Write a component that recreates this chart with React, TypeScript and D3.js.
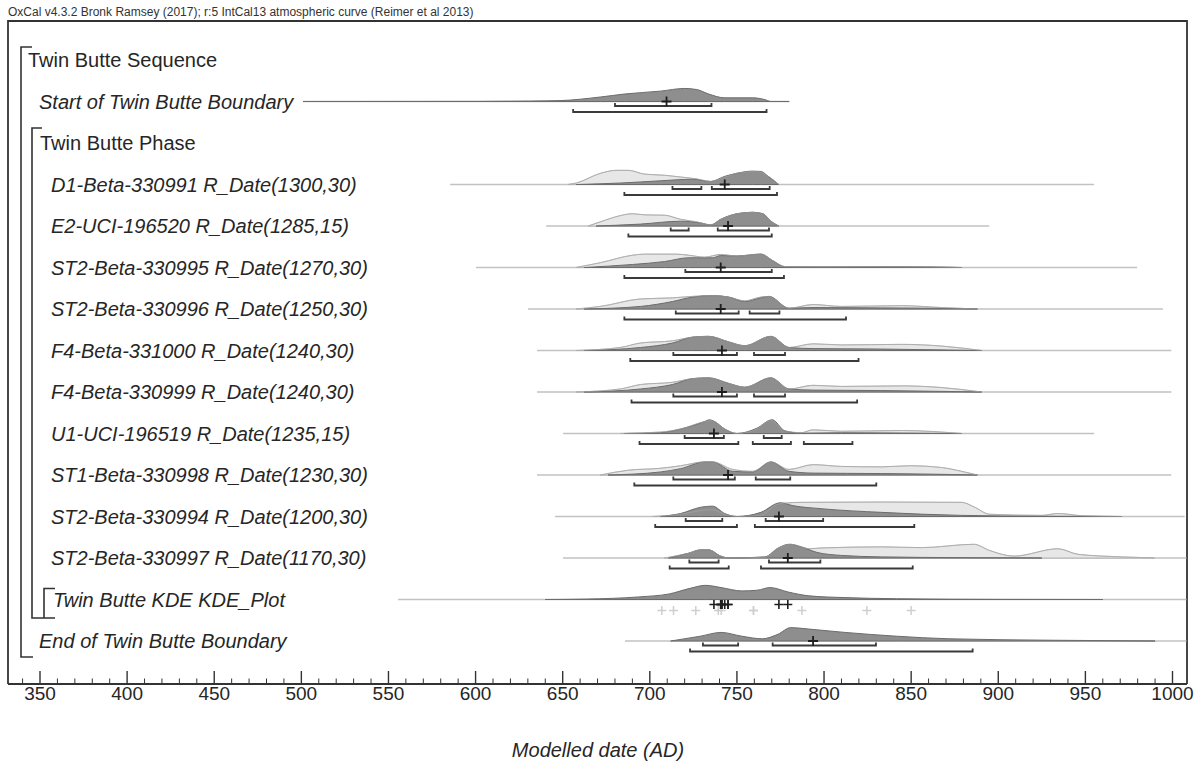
import React from "react";
import * as d3 from "d3";

type Pt = [number, number];

// ---- text ----
const headerText =
  "OxCal v4.3.2 Bronk Ramsey (2017); r:5 IntCal13 atmospheric curve (Reimer et al 2013)";
const axisTitle = "Modelled date (AD)";
const tickYears = d3.range(340, 1001, 10);

// ---- distributions: [year AD, relative density] ----
const startPost: Pt[] = [[501, 0], [602, 0.1], [631, 0.4], [648.5, 0.8], [671.5, 4], [685.4, 6.7], [706, 9.3], [720, 11.7], [727, 10.7], [733.8, 6.7], [743, 3.3], [759, 3.3], [766, 1.7], [769.5, 0], [780, 0]];

const d1Lik: Pt[] = [[653, 0], [657.7, 1.3], [671.6, 10], [680.8, 12.7], [687.7, 12.7], [697, 9.3], [708.4, 8.3], [717.7, 6.7], [727, 5], [735, 2.7], [743, 6.7], [752, 10.7], [761.4, 11.7], [767, 8.3], [774, 0]];
const d1Post: Pt[] = [[657.7, 0], [683, 1.3], [706, 3.3], [724.6, 4.7], [735, 2.7], [743, 7.3], [750, 10], [759, 12], [763.7, 11.7], [768.4, 6.7], [774, 0]];

const e2Lik: Pt[] = [[664.6, 0], [671.6, 3.7], [683, 9.3], [690, 11], [697, 10], [708.4, 9.7], [717.7, 6], [727, 3.7], [735, 1], [740.7, 6], [750, 11], [759, 12.3], [765, 11], [769.5, 4.3], [774, 0]];
const e2Post: Pt[] = [[669.2, 0], [694.6, 1.7], [717.7, 4.3], [729.2, 2.7], [735, 1], [740.7, 6], [750, 11], [759, 12.3], [765, 11], [769.5, 4.3], [774, 0]];

const st995Lik: Pt[] = [[657.7, 0], [671.6, 4.3], [690, 11], [697, 12], [715.3, 12], [722.3, 11], [731.5, 9.3], [740.7, 11.7], [750, 10.3], [763.7, 12], [770.7, 6], [777.6, 0.8], [786.8, 0.7], [830, 0.8], [860, 0.6], [879, 0]];
const st995Post: Pt[] = [[662.3, 0], [690, 2.7], [708.4, 5.3], [722.3, 8.7], [736, 8.7], [740.7, 10.7], [750, 10.3], [763.7, 12], [770.7, 6], [777.6, 0.6], [800, 0.5], [840, 0.7], [879, 0]];

const st996Lik: Pt[] = [[657.7, 0], [671.6, 2.3], [694.6, 9], [713, 10], [724.6, 11.3], [736, 12], [745.3, 10.7], [754.5, 7.3], [763.7, 10.7], [768.4, 11.3], [779.9, 0.7], [793.7, 4], [810, 2.3], [844.4, 3], [867.5, 1.3], [888.2, 0]];
const st996Post: Pt[] = [[662.3, 0], [694.6, 2.3], [713, 6.7], [724.6, 10.7], [736, 12], [745.3, 10.7], [754.5, 6.7], [763.7, 10], [768.4, 11.3], [779.9, 0.7], [793.7, 1.3], [832.9, 1], [879, 0.3], [888, 0]];

const f4Lik: Pt[] = [[657.7, 0], [683, 2.7], [694.6, 6.7], [713, 8.7], [724.6, 12], [733.8, 12.7], [745.3, 7.7], [754.5, 4.3], [769.5, 12.7], [779.9, 2.7], [793.7, 6], [810, 5], [844.4, 5.5], [867.5, 4], [890.5, 0]];
const f4Post: Pt[] = [[662.3, 0], [694.6, 2.7], [713, 6.7], [724.6, 12], [733.8, 12.7], [745.3, 7.7], [754.5, 4.3], [769.5, 12.7], [779.9, 2.7], [793.7, 1.7], [832.9, 1.3], [879, 0.3], [890.5, 0]];

const u1Lik: Pt[] = [[683, 0], [706, 1.3], [717.7, 4], [731.5, 10.7], [735, 11.7], [743, 4], [750, 0], [761.4, 4], [769.5, 11.7], [777.6, 2.3], [786.8, 0.7], [793.7, 3.3], [810, 2], [844.4, 2.7], [879, 0]];
const u1Post: Pt[] = [[685.4, 0], [706, 0.7], [717.7, 4], [731.5, 10.7], [734.2, 12.3], [737.2, 10.7], [743, 4], [750, 0], [761.4, 4.7], [770.2, 12.3], [777.6, 2.3], [786.8, 0.3], [810, 0.7], [856, 0.3], [879, 0]];

const st1Lik: Pt[] = [[671.6, 0], [687.7, 4.3], [706, 6], [717.7, 8.3], [731.5, 11.7], [736, 11.7], [747.6, 5], [759, 3.3], [769.5, 11.7], [779.9, 5], [793.7, 9.3], [810, 7.7], [833, 7.3], [849, 8.3], [867.5, 6.7], [879, 3.3], [888, 0]];
const st1Post: Pt[] = [[676, 0], [706, 2.7], [717.7, 5.7], [731.5, 11.7], [736, 11.7], [747.6, 3.3], [759, 2.7], [769.5, 11.7], [779.9, 3.3], [793.7, 1.7], [833, 1.3], [879, 0.3], [888, 0]];

const st994Lik: Pt[] = [[701.5, 0], [717.7, 2], [729.2, 5.3], [736, 6], [743, 2], [750, 0], [763.7, 1], [773, 11], [777.6, 12], [786.8, 12.7], [833, 13], [879, 12.7], [886, 8.7], [895.1, 2], [925, 1], [934.3, 2.7], [948, 0.7], [971, 0]];
const st994Post: Pt[] = [[706, 0], [717.7, 2.7], [729.2, 8.3], [736, 9.3], [743, 2.7], [750, 0], [763.7, 3.7], [774.8, 12.3], [782.2, 9.7], [798.3, 7], [833, 3.7], [879, 1], [925, 0.3], [971, 0]];

const st997Lik: Pt[] = [[708.4, 0], [722.3, 4.3], [729.2, 7.3], [733.8, 7.3], [740.7, 1.7], [745.3, 0], [766, 0.7], [773, 8.3], [781, 12.3], [791.4, 8.3], [798.3, 9], [833, 10], [856, 9.3], [886, 12.3], [895.1, 6.7], [909, 1.7], [934.3, 8.3], [945.8, 3.3], [971.2, 1], [989.6, 0]];
const st997Post: Pt[] = [[710.7, 0], [722.3, 4.3], [729.2, 7.3], [733.8, 7.3], [740.7, 1.7], [745.3, 0], [766, 1], [774.1, 9.3], [779.9, 12.3], [786.8, 10], [796, 5], [810, 2.3], [833, 1], [879, 0.3], [925, 0]];

const kdePost: Pt[] = [[640, 0], [663.8, 0.4], [693.5, 2.3], [711.2, 5], [723.1, 10], [732, 12.7], [740.9, 10.7], [752.8, 7.7], [761.6, 8.3], [769, 10.7], [779.4, 6.7], [791.3, 3.3], [812, 1.7], [841.7, 0.7], [901, 0.1], [960, 0]];
const kdeLikMeans = [706.9, 713.6, 726.4, 739.3, 741, 759.5, 759.5, 787.3, 824.6, 850];

const endPost: Pt[] = [[712, 0], [729, 4.3], [740.9, 7.7], [752.8, 4.3], [764.6, 2], [773.5, 6], [780.9, 12], [791.3, 10.7], [812, 7.7], [841.7, 4.3], [871.3, 2], [930.6, 0.7], [990, 0]];

// ---- row definitions ----
type Row = {
  label: string;
  italic: boolean;
  lx: number;
  lik?: Pt[];
  post?: Pt[];
  span?: [number, number];
  r68?: [number, number][];
  r95?: [number, number][];
  mean?: number;
};

const rows: Row[] = [
  { label: "Twin Butte Sequence", italic: false, lx: 28 },
  { label: "Start of Twin Butte Boundary", italic: true, lx: 39, post: startPost, span: [501, 780], r68: [[680, 735.4]], r95: [[656, 767]], mean: 709.6 },
  { label: "Twin Butte Phase", italic: false, lx: 40 },
  { label: "D1-Beta-330991 R_Date(1300,30)", italic: true, lx: 51, lik: d1Lik, post: d1Post, span: [585.4, 955], r68: [[713, 729.6], [735.6, 768.8]], r95: [[685.4, 773]], mean: 743 },
  { label: "E2-UCI-196520 R_Date(1285,15)", italic: true, lx: 51, lik: e2Lik, post: e2Post, span: [640.5, 894.8], r68: [[712, 722.3], [739, 768.4]], r95: [[687.7, 770]], mean: 744.9 },
  { label: "ST2-Beta-330995 R_Date(1270,30)", italic: true, lx: 51, lik: st995Lik, post: st995Post, span: [600.3, 979.7], r68: [[720.4, 770]], r95: [[685.4, 777]], mean: 740.7 },
  { label: "ST2-Beta-330996 R_Date(1250,30)", italic: true, lx: 51, lik: st996Lik, post: st996Post, span: [630.1, 994.5], r68: [[714.9, 751], [757.3, 774.4]], r95: [[685.4, 812.6]], mean: 740.7 },
  { label: "F4-Beta-331000 R_Date(1240,30)", italic: true, lx: 51, lik: f4Lik, post: f4Post, span: [635.3, 999.3], r68: [[713.5, 750], [759.8, 777.6]], r95: [[688.8, 819.8]], mean: 741.4 },
  { label: "F4-Beta-330999 R_Date(1240,30)", italic: true, lx: 51, lik: f4Lik, post: f4Post, span: [635.3, 999.3], r68: [[713.5, 750], [759.8, 777.6]], r95: [[689.5, 819]], mean: 741.4 },
  { label: "U1-UCI-196519 R_Date(1235,15)", italic: true, lx: 51, lik: u1Lik, post: u1Post, span: [650.2, 955], r68: [[720, 742.5], [765.4, 775.7]], r95: [[694.1, 750.8], [759.1, 781], [788.4, 816.3]], mean: 736.8 },
  { label: "ST1-Beta-330998 R_Date(1230,30)", italic: true, lx: 51, lik: st1Lik, post: st1Post, span: [635.3, 999.3], r68: [[713.5, 748.8], [760.8, 780.6]], r95: [[691.1, 830]], mean: 744.9 },
  { label: "ST2-Beta-330994 R_Date(1200,30)", italic: true, lx: 51, lik: st994Lik, post: st994Post, span: [645.6, 1007], r68: [[720.6, 741.6], [766.5, 799.5]], r95: [[703.1, 750], [760.3, 851.8]], mean: 774.1 },
  { label: "ST2-Beta-330997 R_Date(1170,30)", italic: true, lx: 51, lik: st997Lik, post: st997Post, span: [650.2, 1008], r68: [[722.7, 739.5], [768.4, 797.9]], r95: [[711.4, 745.3], [763.8, 850.9]], mean: 779.2 },
  { label: "Twin Butte KDE KDE_Plot", italic: true, lx: 53, post: kdePost, span: [555.5, 1008] },
  { label: "End of Twin Butte Boundary", italic: true, lx: 39, post: endPost, span: [685.8, 1008], r68: [[730.5, 750.7], [770.5, 829.8]], r95: [[723.1, 885.3]], mean: 793.7 },
];

const W = 1197;
const Hgt = 763;
const FONT = "'Liberation Sans', Arial, Helvetica, sans-serif";
const INK = "#262626";

const x = d3.scaleLinear().domain([350, 1000]).range([40, 1172.5]);
const dens = d3.scaleLinear().domain([0, 13]).range([0, 14.5]);
const rowY = (k: number) => 60 + 41.5 * k;

const frameL = 8;
const frameR = 1187;
const frameT = 21;
const axisY = 684;

function Plus({ cx, cy, s, color, w }: { cx: number; cy: number; s: number; color: string; w: number }) {
  return (
    <path d={`M${cx - s},${cy}H${cx + s}M${cx},${cy - s}V${cy + s}`} stroke={color} strokeWidth={w} fill="none" />
  );
}

function bracketPath(a: number, b: number, y: number) {
  const x1 = x(a);
  const x2 = x(b);
  return `M${x1},${y - 3}V${y}H${x2}V${y - 3}`;
}

function RowMarks({ row, y }: { row: Row; y: number }) {
  const area = d3
    .area<Pt>()
    .x((d) => x(d[0]))
    .y0(y)
    .y1((d) => y - dens(d[1]))
    .curve(d3.curveMonotoneX);
  const top = d3
    .line<Pt>()
    .x((d) => x(d[0]))
    .y((d) => y - dens(d[1]))
    .curve(d3.curveMonotoneX);
  return (
    <g>
      {row.span && (
        <line x1={x(row.span[0])} x2={Math.min(x(row.span[1]), frameR)} y1={y} y2={y} stroke="#c2c2c2" strokeWidth={1.5} />
      )}
      {row.lik && <path d={area(row.lik) || ""} fill="#e7e7e7" stroke="#b4b4b4" strokeWidth={1} />}
      {row.post && <path d={area(row.post) || ""} fill="#8e8e8e" stroke="#6c6c6c" strokeWidth={1} />}
      {row.lik && <path d={top(row.lik) || ""} fill="none" stroke="#a9a9a9" strokeWidth={0.8} opacity={0.7} />}
      {row.r68 &&
        row.r68.map((r, i) => (
          <path key={"a" + i} d={bracketPath(r[0], r[1], y + 4.5)} stroke="#3a3a3a" strokeWidth={1.8} fill="none" />
        ))}
      {row.r95 &&
        row.r95.map((r, i) => (
          <path key={"b" + i} d={bracketPath(r[0], r[1], y + 10.5)} stroke="#3a3a3a" strokeWidth={1.8} fill="none" />
        ))}
      {row.mean !== undefined && <Plus cx={x(row.mean)} cy={y} s={5} color="#1e1e1e" w={1.8} />}
    </g>
  );
}

export default function App() {
  const kdeIdx = 13;
  const kdeY = rowY(kdeIdx);
  const postMeans = rows.filter((r, i) => i >= 3 && i <= 12 && r.mean !== undefined).map((r) => r.mean as number);

  return (
    <svg
      width={W}
      height={Hgt}
      viewBox={`0 0 ${W} ${Hgt}`}
      style={{ position: "absolute", left: 0, top: 0, background: "#fff" }}
      fontFamily={FONT}
    >
      <rect width={W} height={Hgt} fill="#fff" />
      <text x={8} y={16} fontSize={12} fill="#333">
        {headerText}
      </text>

      {/* frame */}
      <path d={`M${frameL},${axisY}V${frameT}H${frameR}V${axisY}`} fill="none" stroke="#333" strokeWidth={1.8} />

      {/* structure brackets */}
      <path d={`M32,${rowY(0) - 13}H21V${rowY(14) + 16}H33`} fill="none" stroke="#333" strokeWidth={1.6} />
      <path d={`M42,${rowY(2) - 15}H32V${rowY(13) + 18.5}H55`} fill="none" stroke="#333" strokeWidth={1.6} />
      <path d={`M55,${kdeY - 11}H44V${kdeY + 18.5}`} fill="none" stroke="#333" strokeWidth={1.6} />

      {rows.map((row, i) => (
        <g key={i}>
          <text
            x={row.lx}
            y={rowY(i) + 7}
            fontSize={20}
            fontStyle={row.italic ? "italic" : "normal"}
            fill={INK}
          >
            {row.label}
          </text>
          <RowMarks row={row} y={rowY(i)} />
        </g>
      ))}

      {/* KDE markers: unmodelled (light) and modelled (dark) means */}
      {kdeLikMeans.map((m, i) => (
        <Plus key={"l" + i} cx={x(m)} cy={kdeY + 11} s={4.5} color="#cfcfcf" w={1.5} />
      ))}
      {postMeans.map((m, i) => (
        <Plus key={"p" + i} cx={x(m)} cy={kdeY + 5} s={4.5} color="#1e1e1e" w={1.6} />
      ))}

      {/* axis */}
      <line x1={frameL} x2={frameR} y1={axisY} y2={axisY} stroke="#333" strokeWidth={1.8} />
      {tickYears.map((t) => {
        const major = t % 50 === 0;
        return (
          <g key={t}>
            <line x1={x(t)} x2={x(t)} y1={axisY} y2={axisY - (major ? 13 : 5.5)} stroke="#333" strokeWidth={major ? 1.4 : 1} />
            {major && (
              <text x={x(t)} y={axisY + 16} fontSize={19} textAnchor="middle" fill={INK}>
                {t}
              </text>
            )}
          </g>
        );
      })}
      <text x={598} y={757} fontSize={20} fontStyle="italic" textAnchor="middle" fill={INK}>
        {axisTitle}
      </text>
    </svg>
  );
}
